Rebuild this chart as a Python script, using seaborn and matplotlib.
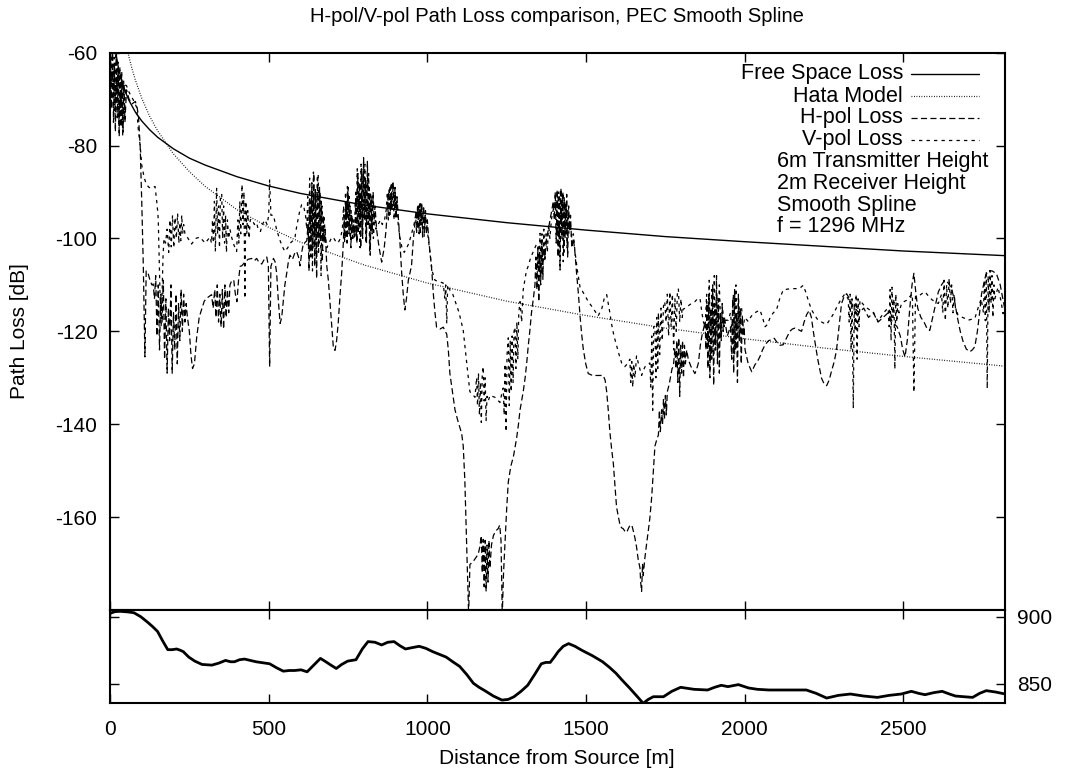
import matplotlib
matplotlib.use("Agg")
import matplotlib.pyplot as plt
import seaborn as sns
from matplotlib.lines import Line2D

# ---------------- data ----------------
title = "H-pol/V-pol Path Loss comparison, PEC Smooth Spline"
x_ticks = [0, 500, 1000, 1500, 2000, 2500]
y_ticks = [-160, -140, -120, -100, -80, -60]
terrain_ticks = [850, 900]

# Free space loss (distance m, dB)
free_space = [(20, -60.7), (25, -62.7), (30, -64.2), (40, -66.7), (50, -68.7), (60, -70.3),
              (80, -72.8), (100, -74.7), (125, -76.6), (150, -78.2), (200, -80.7), (250, -82.7),
              (300, -84.2), (400, -86.7), (500, -88.7), (600, -90.3), (800, -92.8), (1000, -94.7),
              (1250, -96.6), (1500, -98.2), (1750, -99.6), (2000, -100.7), (2250, -101.7),
              (2500, -102.7), (2820, -103.7)]

# Hata model
hata = [(50, -57.8), (60, -61.0), (70, -63.6), (80, -65.9), (100, -69.8), (125, -73.7), (150, -76.8),
        (200, -81.8), (250, -85.6), (300, -88.8), (400, -93.8), (500, -97.6), (600, -100.8),
        (800, -105.7), (1000, -109.6), (1250, -113.5), (1500, -116.6), (1750, -119.3),
        (2000, -121.6), (2250, -123.6), (2500, -125.4), (2820, -127.5)]

# H-pol loss
hpol = [(2, -62), (5, -72), (8, -58), (11, -75), (14, -63), (17, -77), (20, -59), (23, -74), (26, -64),
        (29, -78), (32, -65), (35, -76), (38, -66), (41, -77), (44, -67), (47, -75), (52, -68), (60, -70),
        (70, -71), (80, -70.5), (86, -72), (90, -74), (95, -80), (100, -92), (105, -106), (110, -125.5),
        (114, -107), (120, -107.5), (126, -109), (132, -110), (136, -109.8),
        (140, -113), (144, -108), (148, -121), (152, -110), (156, -124), (160, -112), (164, -118),
        (168, -109), (172, -126), (176, -113), (180, -129), (184, -115), (188, -122), (192, -110),
        (196, -129), (200, -116), (204, -124), (208, -112), (212, -127), (216, -114), (220, -122),
        (224, -111), (228, -120), (232, -112), (236, -118), (240, -114), (244, -117),
        (250, -120), (255, -125), (260, -128), (266, -127), (273, -121.4), (281, -117), (289, -115.2),
        (297, -113.5), (304, -112.9), (312, -112.5), (320, -112.1),
        (325, -115), (330, -111), (334, -117), (338, -110), (342, -118), (346, -112), (350, -119),
        (354, -111), (358, -119.5), (362, -110), (366, -117), (370, -111), (374, -116), (378, -110),
        (384, -109), (390, -109), (395, -112), (400, -113.6), (405, -109), (410, -106), (415, -105.9),
        (425, -105.1), (435, -104.5), (446, -104.3), (455, -104.8), (462, -104.3), (470, -105.2),
        (478, -105.5), (486, -104.5), (494, -104), (499, -106), (503, -127.6), (507, -106), (515, -104.3),
        (520, -105), (525, -107.4), (530, -113), (536, -118.3), (541, -117), (546, -113.6), (551, -110),
        (557, -107.4), (562, -105), (567, -103.6), (575, -104.5), (583, -103), (588, -102.8), (594, -104),
        (599, -105.9), (604, -103), (609, -101.2), (615, -100.8), (620, -100.5),
        (624, -97), (627, -107), (630, -92), (633, -104), (636, -88), (639, -102), (642, -86), (645, -106),
        (648, -90), (651, -108.6), (654, -87), (657, -103), (660, -89), (663, -100), (666, -92),
        (669, -105), (672, -95), (675, -101), (678, -98), (683, -105.9), (688, -109), (693, -113.6),
        (698, -118), (704, -123.7), (709, -124.1), (714, -122), (719, -118.3), (725, -112), (730, -107.4),
        (735, -101.2), (738, -95), (741, -100), (744, -92), (747, -101), (750, -89), (753, -99), (756, -93),
        (759, -102), (762, -95), (765, -100), (768, -97),
        (772, -99), (775, -90), (778, -101), (781, -86), (784, -98), (787, -88), (790, -102), (793, -85),
        (796, -100), (799, -82.6), (802, -96), (805, -87), (808, -101), (811, -83.4), (814, -97),
        (817, -89), (820, -103.6), (823, -91), (826, -99), (829, -90), (832, -96), (835, -93), (840, -98.1),
        (848, -102), (856, -105.1), (864, -102), (870, -98),
        (874, -93), (877, -90), (880, -95), (883, -89), (886, -94), (889, -88.5), (892, -87.7), (895, -93),
        (898, -89), (901, -95.8), (904, -91), (907, -94), (912, -99), (919, -107.4), (924, -112),
        (929, -115.4), (934, -113), (940, -109), (950, -105.9), (956, -100), (961, -96.6),
        (965, -94), (968, -98), (971, -93), (974, -99), (977, -92.5), (980, -97), (982, -92.3),
        (985, -99.7), (988, -93), (991, -98), (994, -94), (997, -99), (1000, -96), (1004, -100),
        (1008, -102.8), (1014, -107), (1019, -112.1), (1024, -116), (1029, -119.1), (1040, -119.5),
        (1050, -119.1), (1061, -120.6), (1066, -124), (1071, -129.1), (1079, -133), (1087, -136.9),
        (1095, -139), (1103, -140.8), (1108, -142), (1113, -144.7), (1118, -152), (1124, -166.4),
        (1127, -173), (1130, -181), (1134, -170.2), (1140, -169.8), (1145, -169.5), (1152, -168.8),
        (1160, -168), (1165, -166.5), (1170, -164),
        (1173, -172), (1176, -164.8), (1179, -175), (1182, -165), (1185, -176), (1188, -166), (1191, -174),
        (1194, -165), (1197, -171), (1202, -166), (1208, -164), (1215, -163), (1223, -162.5),
        (1228, -161.7), (1232, -165), (1236, -181), (1240, -172), (1244, -166.4), (1250, -158),
        (1255, -152.4), (1263, -149), (1271, -147), (1276, -145), (1281, -143.1), (1287, -140),
        (1292, -136.9), (1297, -135), (1302, -133), (1308, -130), (1313, -126.8), (1318, -123),
        (1323, -119.8), (1328, -116), (1334, -112.9), (1339, -110),
        (1342, -104), (1345, -111), (1348, -102), (1351, -113.6), (1354, -103), (1357, -110), (1360, -100.5),
        (1363, -108), (1366, -101), (1370, -104), (1376, -100), (1381, -98.1), (1389, -95), (1397, -92),
        (1400, -96), (1403, -90), (1406, -101), (1409, -89.5), (1412, -104), (1415, -91), (1418, -106.8),
        (1421, -89.2), (1424, -100), (1427, -90), (1430, -103), (1433, -92), (1436, -99), (1439, -90.5),
        (1442, -104), (1445, -93), (1448, -98), (1451, -95), (1455, -102), (1460, -100), (1465, -103),
        (1470, -107.4), (1476, -112), (1481, -116.7), (1486, -120.5), (1491, -123.7), (1499, -127),
        (1507, -129.1), (1517, -129.4), (1528, -129.5), (1540, -129.5), (1554, -129.5), (1560, -130.5),
        (1565, -133), (1570, -137), (1575, -141.6), (1580, -145), (1586, -148.5), (1591, -153),
        (1596, -157.8), (1602, -160), (1607, -161.7), (1612, -162.3), (1617, -162.5), (1622, -163),
        (1628, -163.3), (1633, -162.5), (1638, -161.8), (1644, -161.7), (1649, -163), (1654, -164.5),
        (1659, -166.4), (1664, -169), (1670, -171), (1672, -174), (1675, -176), (1678, -170),
        (1680, -172.6), (1685, -169), (1691, -165.6), (1696, -163), (1701, -160.2), (1707, -155.5),
        (1712, -150), (1717, -144.7), (1722, -143.5), (1728, -142.3),
        (1731, -137), (1734, -141.6), (1738, -136.9), (1741, -140), (1744, -134.5), (1747, -139),
        (1750, -133.8), (1753, -138), (1756, -133), (1759, -132.2), (1763, -131), (1767, -129.5),
        (1771, -128), (1775, -127.6), (1780, -123.7),
        (1783, -128), (1786, -122), (1789, -131), (1792, -121.4), (1795, -134), (1798, -123), (1801, -129),
        (1804, -122), (1807, -130), (1810, -123), (1813, -127), (1817, -124), (1822, -126), (1830, -127.5),
        (1843, -129.1), (1849, -128), (1854, -126.8), (1860, -123), (1865, -121), (1869, -119.8),
        (1875, -118),
        (1878, -124), (1881, -114), (1884, -128), (1887, -112), (1890, -130), (1893, -115), (1896, -126),
        (1899, -110), (1902, -131.6), (1905, -114), (1908, -124), (1911, -108), (1914, -127), (1917, -113),
        (1920, -129), (1923, -116), (1926, -122), (1929, -114), (1932, -120), (1936, -117), (1945, -121),
        (1955, -119),
        (1959, -126), (1962, -113), (1965, -129), (1968, -111), (1971, -124), (1974, -116), (1977, -131),
        (1980, -112), (1983, -122), (1986, -115), (1989, -127), (1992, -117), (1995, -121), (1998, -119),
        (2001, -124), (2011, -127), (2022, -128.7), (2032, -127.2), (2040, -126.5), (2048, -125.4),
        (2056, -124), (2064, -122.9), (2075, -122), (2085, -121.8), (2093, -121.5), (2100, -122.2),
        (2110, -123), (2121, -122.9), (2131, -121.5), (2142, -120), (2150, -119.5), (2158, -119.3),
        (2168, -119.6), (2179, -120), (2187, -118), (2195, -116.4), (2203, -115.5), (2210, -117),
        (2216, -120), (2221, -122.2), (2230, -126), (2242, -130.1), (2250, -131.3), (2258, -131.7),
        (2266, -130.5), (2274, -128.4), (2282, -126.5), (2289, -124.1), (2297, -119), (2305, -114),
        (2313, -112.5), (2321, -111.9), (2330, -113), (2340, -114.5), (2347, -115), (2360, -116),
        (2375, -115), (2390, -117), (2405, -116), (2420, -118), (2436, -117), (2452, -116), (2465, -118),
        (2480, -119), (2490, -121), (2498, -124), (2505, -125.5), (2512, -122), (2520, -115), (2527, -110),
        (2533, -107.5), (2538, -111), (2545, -115), (2555, -117), (2565, -118), (2575, -119.5),
        (2583, -119.8), (2592, -117), (2600, -114.5), (2610, -111.5), (2620, -110), (2630, -109),
        (2640, -109.5), (2650, -110.5), (2660, -113), (2670, -117), (2679, -120), (2688, -122.2),
        (2698, -123.8), (2709, -124.4), (2717, -124), (2725, -123.3), (2733, -120), (2740, -116),
        (2746, -112), (2751, -110.4), (2759, -108), (2767, -106.9), (2780, -107), (2793, -107.6),
        (2805, -110), (2814, -113.3), (2822, -116)]

# V-pol loss
vpol = [(1, -59), (4, -66), (7, -58), (10, -70), (13, -61), (16, -73), (19, -60), (22, -71), (25, -62),
        (28, -76), (31, -63), (34, -74), (37, -64), (40, -78), (43, -66), (46, -73), (49, -67),
        (52, -67.1), (60, -68.5), (68, -69.5), (76, -70.5), (84, -71.8), (89, -76.4), (95, -80),
        (100, -84.2), (108, -87), (115, -88.4), (123, -89), (131, -89.2), (136, -89), (142, -88.8),
        (147, -91.9), (150, -94), (152, -95.8), (155, -104), (158, -113), (161, -119), (164, -112),
        (167, -104), (170, -100), (175, -101), (180, -98), (185, -103), (189, -96), (193, -101.8),
        (197, -95), (201, -102), (205, -95.5), (209, -100), (213, -94.6), (217, -101), (220, -96.6),
        (223, -100.5), (226, -95), (229, -99), (232, -97), (236, -98.9), (246, -100), (257, -101.2),
        (270, -100), (283, -99.7), (300, -101), (315, -99.7), (320, -101),
        (323, -96), (326, -101), (329, -92), (332, -102.8), (336, -89.2), (339, -99), (342, -93),
        (345, -102), (348, -91), (352, -90.4), (355, -100), (358, -93), (361, -101), (364, -95),
        (367, -103), (370, -96), (374, -100), (378, -98), (383, -99.7), (391, -101.5), (399, -102.8),
        (403, -96), (406, -101), (409, -92), (412, -99), (416, -88.4), (419, -97), (422, -90),
        (425, -112.9), (428, -92), (431, -99), (434, -94), (438, -100), (442, -96), (446, -95.8),
        (455, -97), (462, -96.6), (467, -98.1), (474, -98.5), (480, -97), (488, -96), (495, -97),
        (500, -95), (503, -87.3), (507, -95), (515, -95), (525, -98.1), (536, -100.5), (545, -102),
        (551, -102.8), (560, -102), (568, -101), (576, -100.5), (583, -99.7), (588, -97.5), (593, -95.8),
        (598, -94), (604, -92.7), (610, -93), (616, -95),
        (620, -98), (623, -91), (626, -102), (629, -87), (632, -100), (635, -90), (638, -107),
        (641, -85.7), (644, -99), (647, -89), (650, -103), (653, -87), (656, -86.1), (659, -101),
        (662, -90), (665, -108), (668, -93), (671, -100), (674, -95), (678, -99), (683, -102), (690, -101),
        (697, -100), (703, -99.7), (710, -100.5), (718, -101), (726, -100), (732, -98),
        (736, -93), (739, -101), (742, -90), (745, -98), (748, -88.8), (751, -97), (754, -91), (757, -100),
        (760, -94), (763, -99), (767, -96), (770, -100),
        (773, -92), (776, -100), (779, -85), (782, -99), (785, -88), (788, -102), (791, -84), (794, -98),
        (797, -86), (800, -96), (803, -84), (806, -101), (809, -88), (812, -97), (815, -86), (818, -103),
        (821, -90), (824, -98), (827, -92), (830, -100), (834, -95), (838, -98), (845, -97), (852, -96),
        (858, -97), (865, -96), (870, -94),
        (874, -90), (877, -96), (880, -89), (883, -95), (886, -88), (889, -94), (892, -88.5), (895, -96),
        (898, -90), (901, -95), (904, -92), (908, -97), (914, -100), (920, -102), (927, -103), (935, -102),
        (942, -101), (950, -99), (958, -97),
        (963, -95), (966, -99), (969, -93), (972, -98), (975, -92.7), (978, -99), (981, -93), (984, -97),
        (987, -94), (990, -99.7), (993, -95), (997, -98), (1001, -99), (1008, -103), (1015, -107),
        (1024, -109), (1037, -109.3), (1050, -109.6), (1055, -113), (1058, -110), (1061, -118.3),
        (1064, -110), (1070, -111), (1080, -112), (1090, -114), (1100, -116), (1113, -119.8),
        (1118, -123), (1124, -126.8), (1129, -130), (1134, -133), (1142, -133.5), (1150, -134.2),
        (1155, -130), (1158, -136), (1161, -129), (1164, -138), (1167, -131), (1170, -139.6), (1173, -129),
        (1176, -127.6), (1179, -135), (1182, -130), (1185, -139.2), (1188, -134), (1192, -135),
        (1197, -133.8), (1205, -134), (1213, -134.2), (1221, -134.8), (1229, -135.3), (1234, -133.5),
        (1239, -132.2),
        (1242, -138), (1245, -127), (1248, -141.6), (1251, -125), (1255, -121.4), (1258, -136),
        (1261, -122), (1264, -133), (1267, -121), (1270, -131), (1273, -120), (1276, -119.1), (1279, -128),
        (1282, -118), (1285, -126), (1288, -116), (1292, -113.6), (1297, -118), (1302, -111), (1307, -109),
        (1312, -107), (1318, -105.9), (1326, -104), (1334, -102.8), (1342, -101.5), (1349, -101.2),
        (1352, -106), (1355, -98.9), (1358, -108), (1361, -99), (1364, -109), (1367, -98), (1370, -105),
        (1374, -99), (1378, -103), (1382, -97), (1386, -100), (1391, -95.8), (1399, -93), (1407, -92),
        (1410, -98), (1413, -90), (1416, -103), (1419, -89.5), (1422, -97), (1425, -90.5), (1428, -105),
        (1431, -91), (1434, -100), (1437, -93), (1440, -102), (1443, -94), (1446, -99), (1450, -97),
        (1455, -100), (1460, -99), (1465, -102.8), (1473, -107), (1481, -110.5), (1494, -112),
        (1507, -113.6), (1522, -115), (1538, -116.7), (1550, -115), (1557, -113), (1565, -112.1),
        (1570, -114), (1575, -116), (1580, -118.3), (1588, -121), (1596, -123), (1604, -125),
        (1612, -126.8), (1617, -127.2), (1622, -127.6), (1630, -127), (1638, -126),
        (1641, -131), (1644, -126.5), (1647, -132), (1650, -127), (1654, -130), (1659, -125.3),
        (1667, -127.5), (1675, -129.5), (1680, -128.5), (1686, -127.6), (1694, -127.2), (1701, -126.8),
        (1704, -132), (1707, -121), (1710, -137), (1713, -119), (1717, -119), (1720, -130), (1723, -117),
        (1726, -128), (1728, -116), (1732, -125), (1736, -115), (1740, -122), (1744, -114.5),
        (1748, -113.6), (1752, -118), (1756, -112), (1760, -121), (1764, -111.5), (1768, -119),
        (1772, -112), (1776, -124), (1780, -113), (1784, -120), (1788, -111), (1791, -110.9), (1795, -118),
        (1799, -113), (1803, -117), (1806, -115.2), (1814, -115), (1822, -114.5), (1832, -114),
        (1843, -113.6), (1851, -113), (1859, -112.9), (1865, -116), (1870, -118), (1875, -119),
        (1880, -112), (1884, -122), (1888, -109), (1892, -126), (1896, -111), (1900, -120), (1904, -108),
        (1908, -124), (1912, -112), (1916, -118), (1920, -110), (1925, -121), (1930, -115), (1935, -119),
        (1940, -117.6), (1948, -117.6), (1955, -116), (1960, -120), (1964, -112), (1968, -125),
        (1972, -110), (1976, -121), (1980, -113), (1985, -118), (1990, -115), (1995, -119), (2000, -117),
        (2011, -117.9), (2020, -116.8), (2027, -116.2), (2037, -115.8), (2048, -115.4), (2056, -117),
        (2064, -119), (2072, -118.5), (2080, -117), (2090, -116), (2100, -115.4), (2110, -113),
        (2121, -111.1), (2135, -110.9), (2148, -110.8), (2160, -110.8), (2169, -110.8), (2177, -110.5),
        (2184, -110.1), (2192, -111.5), (2200, -113.3), (2206, -114.5), (2211, -115.4), (2220, -116.5),
        (2230, -117.5), (2237, -117.8), (2248, -118.2), (2258, -118.5), (2268, -117.5), (2279, -116.3),
        (2292, -114.5), (2305, -112.9), (2315, -112), (2326, -113),
        (2329, -118), (2332, -112), (2335, -124), (2338, -113), (2342, -136.6), (2345, -114), (2348, -120),
        (2351, -112), (2354, -126), (2357, -113), (2360, -119), (2363, -113.3), (2371, -114),
        (2379, -114.7), (2392, -115.3), (2405, -115.8), (2413, -117), (2421, -117.9), (2428, -117),
        (2436, -116.2), (2444, -115.5), (2452, -115),
        (2455, -119), (2458, -111), (2461, -122), (2464, -110.5), (2467, -117), (2470, -113),
        (2473, -128.1), (2476, -112), (2479, -118), (2482, -114), (2486, -116), (2494, -114),
        (2502, -113.6), (2510, -113.3), (2520, -112.5), (2528, -112), (2533, -133.1), (2538, -112.5),
        (2545, -112.3), (2552, -112.2), (2560, -111.8), (2568, -111.5), (2580, -112.5), (2590, -113.2),
        (2599, -113.6), (2610, -114),
        (2620, -112), (2624, -116), (2628, -109), (2632, -117.7), (2636, -110), (2640, -115),
        (2644, -108.6), (2648, -114), (2652, -110), (2656, -116), (2660, -112), (2664, -115),
        (2672, -116.5), (2683, -116.9), (2693, -117.2), (2704, -117.6), (2714, -117.4), (2725, -117.2),
        (2735, -115), (2745, -113),
        (2752, -116), (2755, -109), (2758, -117.7), (2761, -107), (2764, -132.3), (2767, -108),
        (2770, -116), (2773, -106.9), (2776, -114), (2779, -108), (2782, -117), (2785, -110), (2788, -113),
        (2798, -110.5), (2806, -113), (2814, -116.2), (2822, -114)]

# Terrain profile (distance m, elevation m)
terrain = [(0, 902.5), (16, 903.8), (32, 904), (55, 903.6), (75, 903), (97, 900), (118, 896),
           (135, 892.5), (150, 889), (166, 882), (182, 875.5), (196, 875.5), (210, 876), (222, 875),
           (231, 874), (248, 870), (267, 867), (290, 864.5), (321, 864), (343, 865.5), (364, 867.5),
           (380, 866.5), (392, 866.5), (408, 868), (424, 868.5), (442, 867.5), (460, 866.5), (503, 865),
           (525, 862), (546, 859.5), (565, 860), (582, 860), (602, 860.5), (621, 859), (642, 864),
           (663, 869), (680, 866.5), (696, 864), (713, 861.5), (730, 864.5), (749, 867), (775, 868),
           (795, 876), (813, 881.5), (835, 881), (856, 879), (875, 881), (895, 881.5), (913, 878.5),
           (931, 876), (952, 877), (974, 878), (995, 876.5), (1017, 874), (1038, 872), (1059, 870),
           (1080, 866.5), (1102, 863), (1124, 857), (1145, 850.5), (1163, 847.5), (1181, 845),
           (1208, 841), (1235, 838), (1255, 838.5), (1273, 840.5), (1295, 844.5), (1316, 849),
           (1338, 857), (1359, 865), (1373, 866), (1387, 866), (1400, 870), (1412, 874), (1428, 878),
           (1445, 880), (1465, 878), (1487, 875), (1520, 871), (1552, 866.5), (1573, 862.5), (1594, 858),
           (1615, 852.5), (1637, 847), (1658, 841.5), (1680, 835.6), (1696, 838.5), (1712, 840.5),
           (1744, 840.5), (1770, 844.5), (1798, 847.5), (1840, 846), (1883, 845.5), (1905, 847.5),
           (1926, 849), (1947, 848), (1980, 849.5), (2012, 847), (2040, 846), (2076, 845.5),
           (2135, 845.5), (2194, 845.5), (2225, 843), (2258, 839.5), (2295, 841.5), (2333, 842.5),
           (2375, 841), (2418, 840), (2455, 841.5), (2493, 842.5), (2525, 844.5), (2548, 843),
           (2568, 842), (2595, 843.5), (2622, 844.5), (2645, 842.5), (2664, 841), (2690, 840.5),
           (2718, 840), (2740, 843), (2761, 845), (2790, 844), (2821, 842.5)]

key_labels = ["Free Space Loss", "Hata Model", "H-pol Loss", "V-pol Loss"]
info_lines = ["6m Transmitter Height", "2m Receiver Height", "Smooth Spline", "f = 1296 MHz"]

# ---------------- styling ----------------
sns.set_theme(style="white")
plt.rcParams['font.family'] = ['Liberation Sans', 'DejaVu Sans']
plt.rcParams['lines.scale_dashes'] = False
FS = 15

W, H = 1068, 775
fig = plt.figure(figsize=(W / 100, H / 100), dpi=100)
fig.patch.set_facecolor("white")


def fx(x):
    return x / W


def fy(y):
    return 1 - y / H


L, R = 110, 1005
T1, B1 = 52.7, 610
T2, B2 = 610, 703.3
ax = fig.add_axes([fx(L), fy(B1), fx(R) - fx(L), fy(T1) - fy(B1)])
ax2 = fig.add_axes([fx(L), fy(B2), fx(R) - fx(L), fy(T2) - fy(B2)])

styles = {
    "free": dict(ls="-", lw=1.0),
    "hata": dict(ls=(0, (0.6, 1.2)), lw=0.9),
    "hpol": dict(ls=(0, (4.4, 2.4)), lw=0.9),
    "vpol": dict(ls=(0, (2.4, 3.0)), lw=0.9),
}
series = [("free", free_space), ("hata", hata), ("hpol", hpol), ("vpol", vpol)]
for name, data in series:
    xs = [p[0] for p in data]
    ys = [p[1] for p in data]
    n_before = len(ax.lines)
    sns.lineplot(x=xs, y=ys, ax=ax, color="black", estimator=None, sort=False, legend=False,
                 lw=styles[name]["lw"])
    ln = ax.lines[n_before]
    ln.set_linestyle(styles[name]["ls"])
    ln.set_antialiased(True)

tx = [p[0] for p in terrain]
ty = [p[1] for p in terrain]
sns.lineplot(x=tx, y=ty, ax=ax2, color="black", lw=2.0, estimator=None, sort=False, legend=False)

# axes limits / ticks
ax.set_xlim(0, 2820)
ax.set_ylim(-180, -60)
ax2.set_xlim(0, 2820)
ax2.set_ylim(835.6, 905)

for a in (ax, ax2):
    for sp in a.spines.values():
        sp.set_visible(True)
        sp.set_color("black")
        sp.set_linewidth(1.5)
    a.set_facecolor("white")
    a.grid(False)
    a.set_xticks(x_ticks)
    a.tick_params(axis="both", which="both", direction="in", length=6.5, width=1.0,
                  colors="black", labelsize=FS, top=True, bottom=True, left=True, right=True)
    a.set_xlabel("")
    a.set_ylabel("")

ax.set_yticks(y_ticks)
ax.set_yticklabels([str(v) for v in y_ticks])
ax.tick_params(labelbottom=False, labelleft=True, labelright=False, pad=9)
ax2.set_yticks(terrain_ticks)
ax2.set_yticklabels([str(v) for v in terrain_ticks])
ax2.tick_params(labelbottom=True, labelleft=False, labelright=True, pad=9)
ax2.tick_params(axis="x", pad=12)
ax2.set_xticklabels([str(v) for v in x_ticks])

# titles / labels
fig.text(fx(557), fy(16), title, ha="center", va="center", fontsize=FS - 0.5, color="black")
fig.text(fx(20), fy(331), "Path Loss [dB]", ha="center", va="center", rotation=90,
         fontsize=FS, color="black")
fig.text(fx(557), fy(759), "Distance from Source [m]", ha="center", va="center",
         fontsize=FS, color="black")

# gnuplot-like key
key_y = [74, 96, 118, 140]
for lbl, yy, name in zip(key_labels, key_y, ["free", "hata", "hpol", "vpol"]):
    fig.text(fx(903), fy(yy), lbl, ha="right", va="center", fontsize=FS + 0.5, color="black")
    ln = Line2D([fx(911), fx(979)], [fy(yy), fy(yy)], transform=fig.transFigure, color="black",
                lw=styles[name]["lw"], ls=styles[name]["ls"])
    fig.add_artist(ln)
for i, txt in enumerate(info_lines):
    fig.text(fx(777), fy(161 + 22 * i), txt, ha="left", va="center", fontsize=FS + 0.5, color="black")

fig.savefig("out.png", dpi=100, facecolor="white")
